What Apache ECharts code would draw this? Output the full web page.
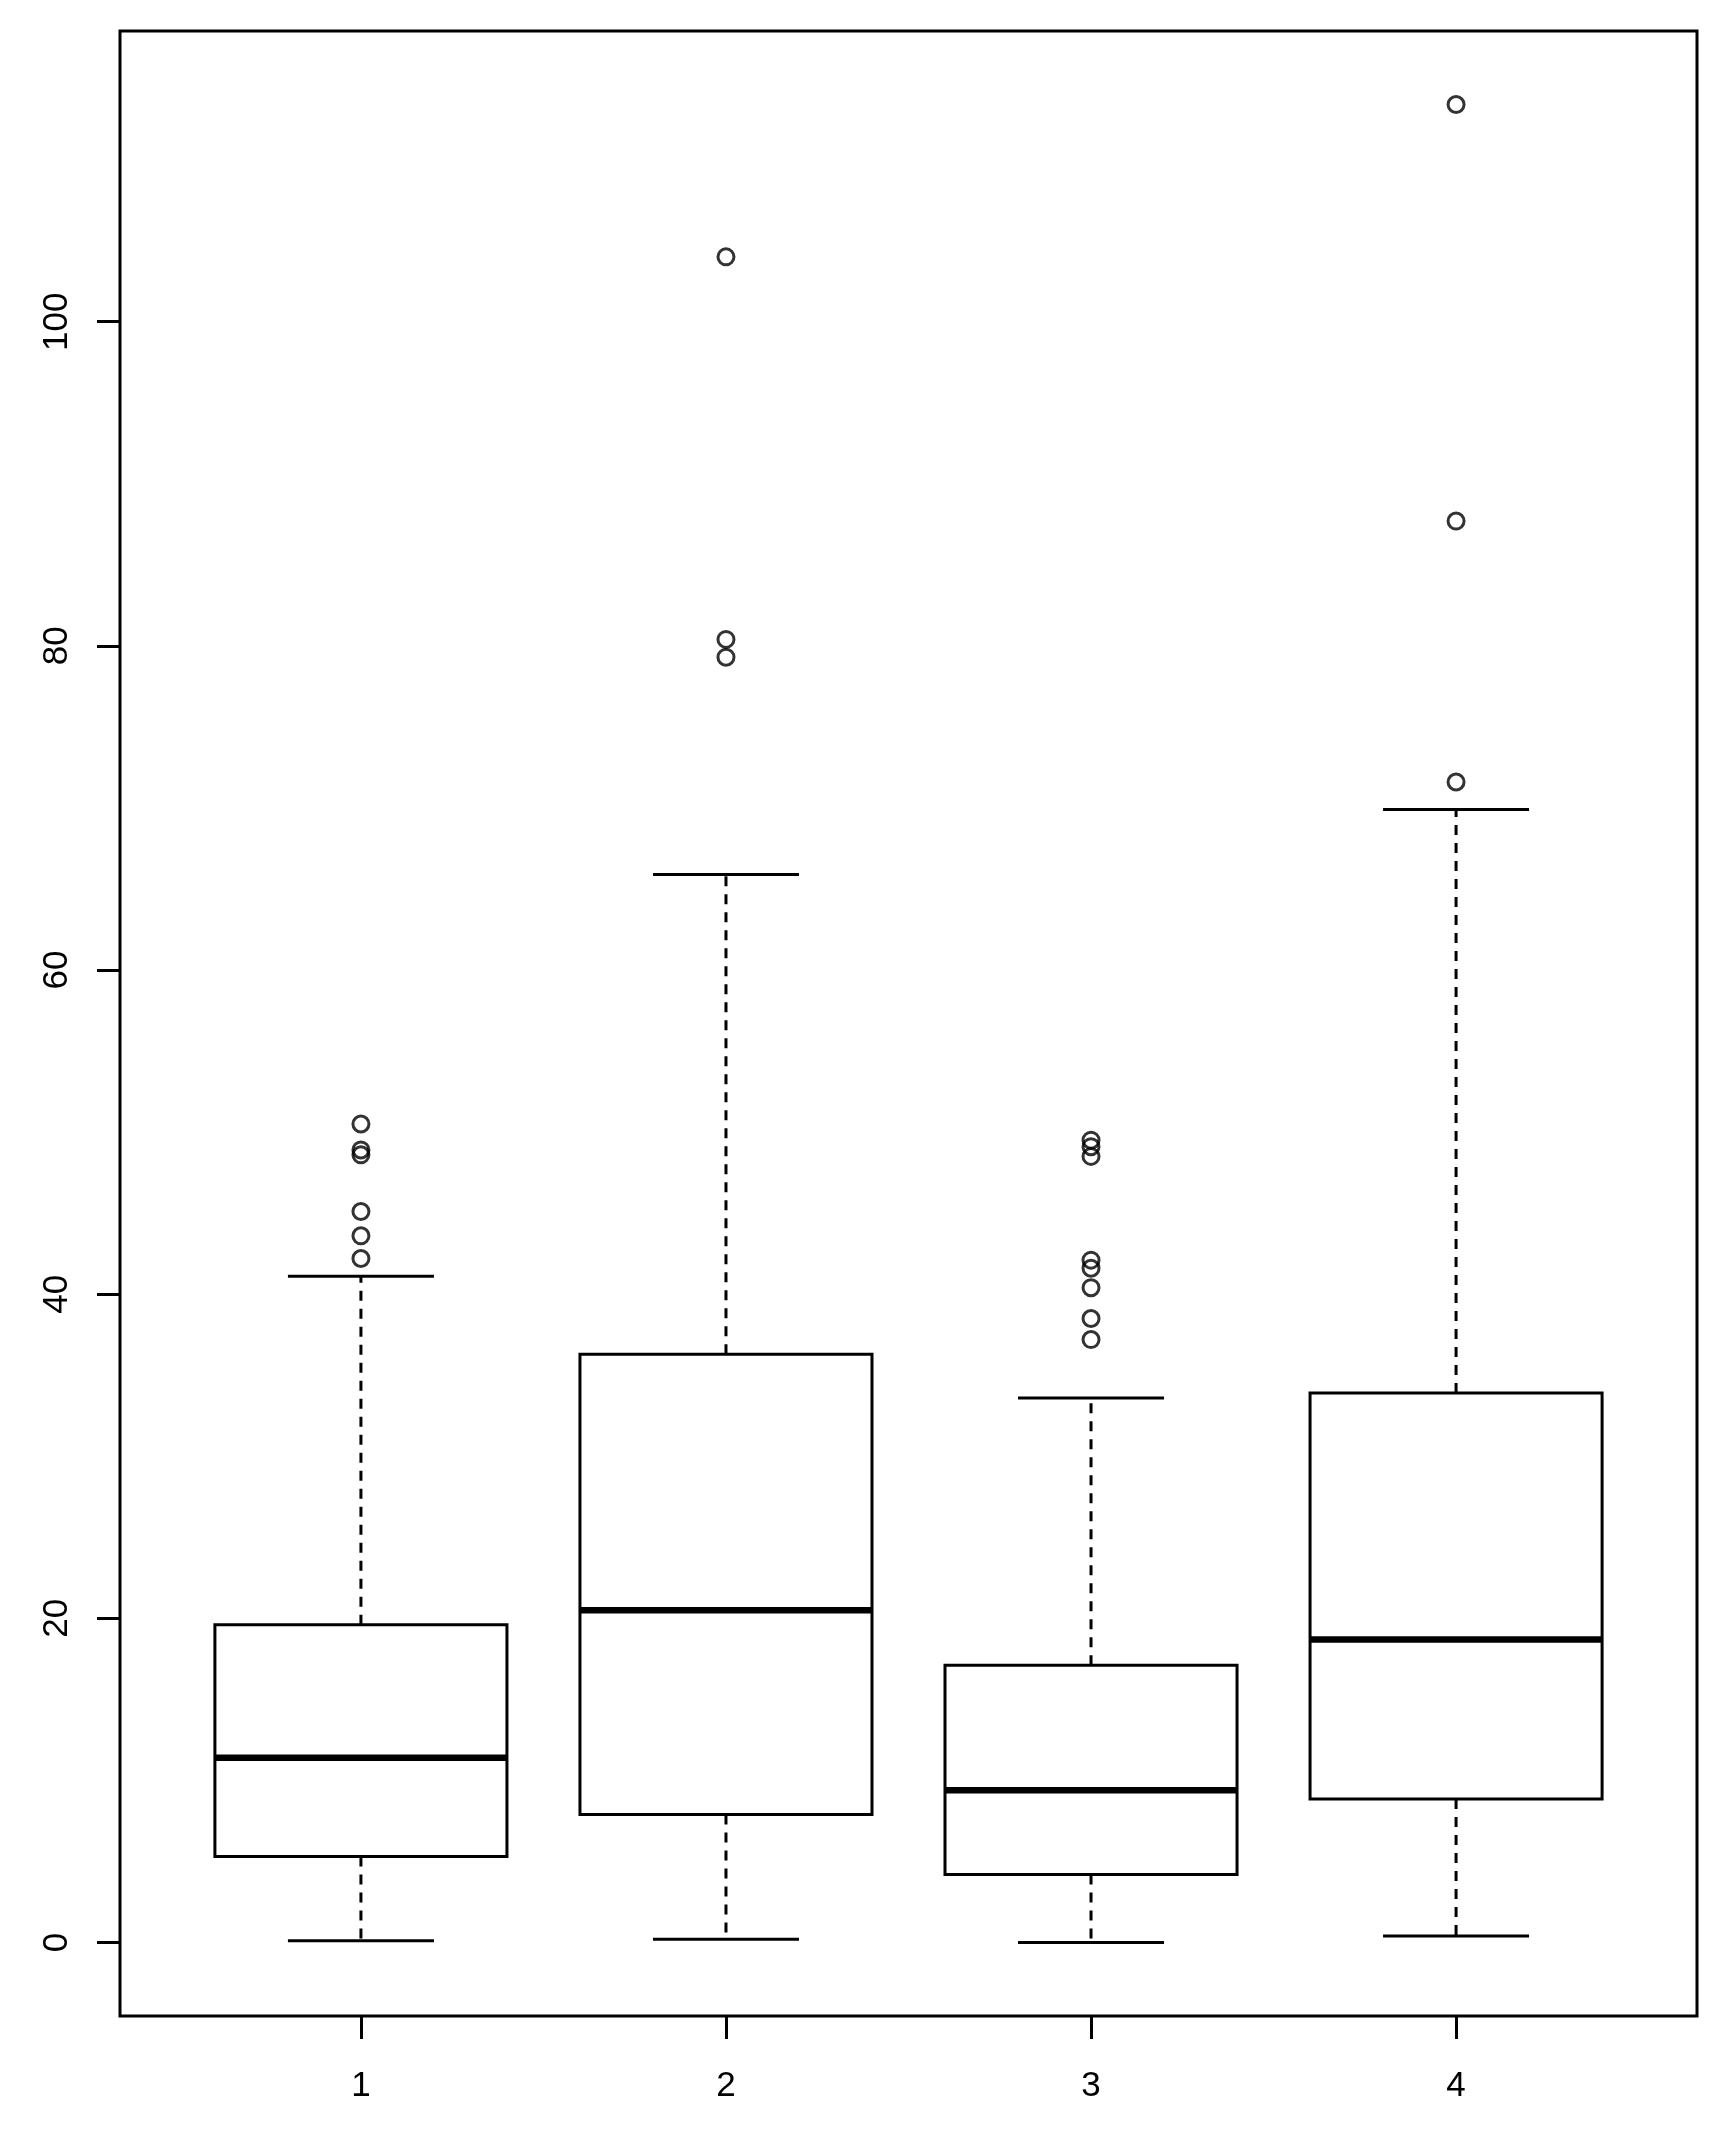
<!DOCTYPE html>
<html>
<head>
<meta charset="utf-8">
<script src="https://cdn.jsdelivr.net/npm/echarts@6.0.0/dist/echarts.min.js"></script>
<style>
	html, body { margin: 0; padding: 0; background: #fff; }
	#chart { width: 1722px; height: 2145px; }
</style>
</head>
<body>
<div id="chart"></div>
<script>
/* box statistics */
const groups = [1, 2, 3, 4]
const lowWhisker = [0.1, 0.2, 0.0, 0.4]
const lowerQuartile = [5.3, 7.9, 4.2, 8.85]
const medians = [11.4, 20.5, 9.4, 18.7]
const upperQuartile = [19.6, 36.3, 17.1, 33.9]
const highWhisker = [41.1, 65.9, 33.6, 69.9]

/* outliers: group and value */
const outlierGroup = [1, 1, 1, 1, 1, 1, 2, 2, 2, 3, 3, 3, 3, 3, 3, 3, 3, 4, 4, 4]
const outlierValue = [50.5, 48.9, 48.6, 45.1, 43.6, 42.2, 104.0, 80.4, 79.3,
	49.5, 49.1, 48.5, 42.1, 41.6, 40.4, 38.5, 37.2, 113.4, 87.7, 71.6]

const yTicks = [0, 20, 40, 60, 80, 100]

/* R style axis limits: 4% padding on each side */
const allValues = lowWhisker.concat(highWhisker, outlierValue)
const dataMin = Math.min(...allValues)
const dataMax = Math.max(...allValues)
const yPad = (dataMax - dataMin) * 0.04
const xPad = groups.length * 0.04

const boxData = groups.map((g, i) => [g, lowWhisker[i], lowerQuartile[i], medians[i], upperQuartile[i], highWhisker[i]])
const outlierData = outlierGroup.map((g, i) => [g, outlierValue[i]])

const FONT = 'Liberation Sans, Arial, sans-serif'

const renderBox = (params, api) => {
	const x = api.value(0)
	const pLow = api.coord([x, api.value(1)])
	const pQ1 = api.coord([x, api.value(2)])
	const pMed = api.coord([x, api.value(3)])
	const pQ3 = api.coord([x, api.value(4)])
	const pHigh = api.coord([x, api.value(5)])
	const boxW = api.size([0.8, 0])[0]
	const capW = api.size([0.4, 0])[0]
	const cx = pMed[0]
	const solid = { stroke: '#000', lineWidth: 3, fill: null }
	const dashed = { stroke: '#000', lineWidth: 3, lineDash: [10, 8], fill: null }
	return {
		type: 'group',
		children: [
			{ type: 'line', shape: { x1: cx, y1: pQ3[1], x2: cx, y2: pHigh[1] }, style: dashed },
			{ type: 'line', shape: { x1: cx, y1: pQ1[1], x2: cx, y2: pLow[1] }, style: dashed },
			{ type: 'line', shape: { x1: cx - capW / 2, y1: pHigh[1], x2: cx + capW / 2, y2: pHigh[1] }, style: solid },
			{ type: 'line', shape: { x1: cx - capW / 2, y1: pLow[1], x2: cx + capW / 2, y2: pLow[1] }, style: solid },
			{
				type: 'rect',
				shape: { x: cx - boxW / 2, y: pQ3[1], width: boxW, height: pQ1[1] - pQ3[1] },
				style: { stroke: '#000', lineWidth: 3, fill: '#fff' }
			},
			{ type: 'line', shape: { x1: cx - boxW / 2, y1: pMed[1], x2: cx + boxW / 2, y2: pMed[1] }, style: { stroke: '#000', lineWidth: 6.5 } }
		]
	}
}

const chart = echarts.init(document.getElementById('chart'))
chart.setOption({
	animation: false,
	backgroundColor: '#fff',
	grid: {
		left: 120,
		right: 25,
		top: 31,
		bottom: 129,
		show: true,
		borderColor: '#000',
		borderWidth: 3,
		backgroundColor: 'transparent',
		outerBoundsMode: 'none'
	},
	xAxis: {
		type: 'value',
		min: 0.5 - xPad,
		max: groups.length + 0.5 + xPad,
		splitLine: { show: false },
		axisLine: { show: false, onZero: false },
		axisTick: { show: true, length: 23, lineStyle: { color: '#000', width: 3 }, customValues: groups },
		axisLabel: { show: true, customValues: groups, color: '#000', fontSize: 35, fontFamily: FONT, margin: 53 }
	},
	yAxis: {
		type: 'value',
		min: dataMin - yPad,
		max: dataMax + yPad,
		splitLine: { show: false },
		axisLine: { show: false, onZero: false },
		axisTick: { show: true, length: 23, lineStyle: { color: '#000', width: 3 }, customValues: yTicks },
		axisLabel: { show: true, customValues: yTicks, rotate: 90, color: '#000', fontSize: 35, fontFamily: FONT, margin: 45 }
	},
	series: [
		{
			type: 'custom',
			renderItem: renderBox,
			data: boxData,
			encode: { x: 0, y: [1, 2, 3, 4, 5] },
			z: 2
		},
		{
			type: 'scatter',
			data: outlierData,
			symbol: 'circle',
			symbolSize: 16,
			itemStyle: { color: 'transparent', borderColor: '#000', borderWidth: 3 },
			z: 3
		}
	]
})

window.onresize = () => {
	chart.resize()
}
</script>
</body>
</html>
